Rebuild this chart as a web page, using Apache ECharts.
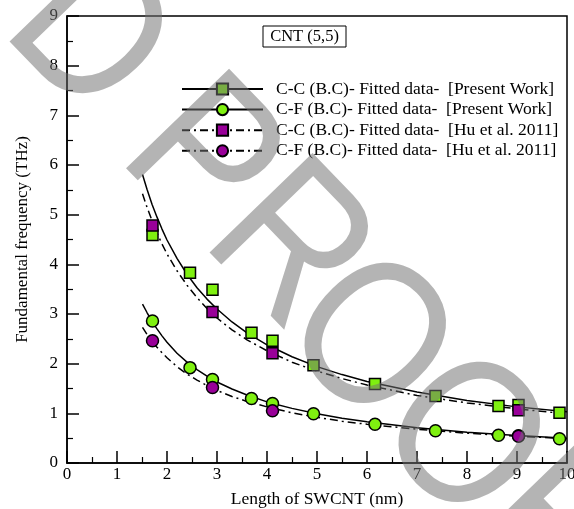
<!DOCTYPE html>
<html>
<head>
<meta charset="utf-8">
<script src="https://cdn.jsdelivr.net/npm/echarts@6/dist/echarts.min.js"></script>
<style>
  html, body { margin: 0; padding: 0; background: #fff; }
  #chart { width: 574px; height: 509px; }
</style>
</head>
<body>
<div id="chart"></div>
<script>
// ---- Data ----
const xTicks = [0, 1, 2, 3, 4, 5, 6, 7, 8, 9, 10];
const yTicks = [0, 1, 2, 3, 4, 5, 6, 7, 8, 9];

const legendNames = [
  'C-C (B.C)- Fitted data-  [Present Work]',
  'C-F (B.C)- Fitted data-  [Present Work]',
  'C-C (B.C)- Fitted data-  [Hu et al. 2011]',
  'C-F (B.C)- Fitted data-  [Hu et al. 2011]'
];

// Data points (symbols)
const presentX = [1.71, 2.46, 2.91, 3.69, 4.11, 4.93, 6.16, 7.37, 8.63, 9.03, 9.85];
const ccPresentY = [4.59, 3.83, 3.49, 2.62, 2.46, 1.97, 1.59, 1.35, 1.15, 1.17, 1.01];
const cfPresentY = [2.86, 1.92, 1.68, 1.30, 1.20, 0.99, 0.78, 0.65, 0.56, 0.55, 0.49];
const huX = [1.71, 2.91, 4.11, 9.03];
const ccHuY = [4.78, 3.04, 2.21, 1.06];
const cfHuY = [2.46, 1.52, 1.05, 0.54];

// Fitted curves
const fitX = [1.51, 1.6, 1.7, 1.8, 1.9, 2.0, 2.2, 2.4, 2.6, 2.8, 3.0, 3.3, 3.6, 4.0, 4.5, 5, 5.5, 6, 7, 8, 9, 10];
const ccPresentFit = [5.81, 5.51, 5.21, 4.95, 4.71, 4.49, 4.12, 3.80, 3.53, 3.30, 3.10, 2.84, 2.62, 2.38, 2.14, 1.94, 1.78, 1.64, 1.43, 1.26, 1.13, 1.03];
const ccHuFit = [5.42, 5.15, 4.88, 4.63, 4.41, 4.21, 3.87, 3.58, 3.33, 3.11, 2.92, 2.68, 2.48, 2.26, 2.03, 1.85, 1.70, 1.57, 1.36, 1.21, 1.09, 0.99];
const cfPresentFit = [3.20, 3.03, 2.85, 2.70, 2.56, 2.43, 2.21, 2.03, 1.88, 1.75, 1.63, 1.49, 1.37, 1.23, 1.10, 0.99, 0.90, 0.83, 0.71, 0.62, 0.555, 0.50];
const cfHuFit = [2.73, 2.59, 2.45, 2.33, 2.22, 2.12, 1.94, 1.79, 1.67, 1.56, 1.46, 1.34, 1.24, 1.13, 1.01, 0.92, 0.84, 0.78, 0.68, 0.60, 0.54, 0.49];

const titleText = 'CNT (5,5)';
const xName = 'Length of SWCNT (nm)';
const yName = 'Fundamental frequency (THz)';
// Watermark letters ("...D PROOF") with the anchor of each letter
const wmLetters = ['D', 'P', 'R', 'O', 'O', 'F'];
const wmAnchors = [[86, 38], [199, 161], [286, 249], [365, 343], [459, 442], [548, 527]];

// ---- Styles ----
const SERIF = '"Liberation Serif", "Times New Roman", serif';
const GREEN = '#7ff010';
const PURPLE = '#990099';
const DASHDOT = [8, 4, 2, 4];
const WM_ROT = -46 * Math.PI / 180;

function pairs(xs, ys) { return xs.map((x, i) => [x, ys[i]]); }

function curve(name, ys, symbol, color, dashed) {
  return {
    name: name,
    type: 'line',
    data: pairs(fitX, ys),
    smooth: false,
    showSymbol: false,
    symbol: symbol,
    itemStyle: { color: color, borderColor: '#000', borderWidth: 1.5 },
    lineStyle: { color: '#000', width: 1.5, type: dashed ? DASHDOT : 'solid' },
    emphasis: { disabled: true },
    silent: true,
    z: 2
  };
}

function points(name, xs, ys, symbol, size, color, z) {
  return {
    name: name,
    type: 'scatter',
    data: pairs(xs, ys),
    symbol: symbol,
    symbolSize: size,
    itemStyle: { color: color, borderColor: '#000', borderWidth: 1.5, opacity: 1 },
    emphasis: { disabled: true },
    silent: true,
    z: z
  };
}

const watermark = wmLetters.map((ch, i) => ({
  type: 'text',
  x: wmAnchors[i][0], y: wmAnchors[i][1],
  rotation: WM_ROT, scaleX: 0.87, scaleY: 1,
  silent: true,
  style: {
    text: ch, font: '208px "Liberation Sans", Arial, sans-serif',
    fill: 'rgba(113,113,113,0.53)', align: 'center', verticalAlign: 'middle'
  },
  z: 100
}));

const chart = echarts.init(document.getElementById('chart'), null, { renderer: 'canvas' });

const option = {
  backgroundColor: '#fff',
  animation: false,
  grid: {
    left: 67, right: 7, top: 16, bottom: 46,
    containLabel: false, outerBoundsMode: 'none',
    show: true, borderColor: '#000', borderWidth: 1.5, backgroundColor: 'transparent'
  },
  xAxis: {
    type: 'value', min: 0, max: 10, interval: 1,
    name: xName, nameLocation: 'middle', nameGap: 27,
    nameTextStyle: { fontFamily: SERIF, fontSize: 17.5, color: '#000' },
    axisLine: { show: true, lineStyle: { color: '#000', width: 1.5 } },
    axisTick: { show: true, inside: true, length: 12, lineStyle: { color: '#000', width: 1.5 } },
    minorTick: { show: true, splitNumber: 2, length: 6, lineStyle: { color: '#000', width: 1.2 } },
    axisLabel: { fontFamily: SERIF, fontSize: 17, color: '#000', margin: 3, hideOverlap: false,
      formatter: v => (xTicks.indexOf(v) >= 0 ? String(v) : '') },
    splitLine: { show: false }
  },
  yAxis: {
    type: 'value', min: 0, max: 9, interval: 1,
    name: yName, nameLocation: 'middle', nameGap: 36,
    nameTextStyle: { fontFamily: SERIF, fontSize: 17, color: '#000' },
    axisLine: { show: true, lineStyle: { color: '#000', width: 1.5 } },
    axisTick: { show: true, inside: true, length: 12, lineStyle: { color: '#000', width: 1.5 } },
    minorTick: { show: true, splitNumber: 2, length: 6, lineStyle: { color: '#000', width: 1.2 } },
    axisLabel: { fontFamily: SERIF, fontSize: 17, color: '#000', margin: 9,
      formatter: v => (yTicks.indexOf(v) >= 0 ? String(v) : '') },
    splitLine: { show: false }
  },
  legend: {
    data: legendNames,
    orient: 'vertical',
    left: 181, top: 80, padding: 0,
    itemWidth: 81, itemHeight: 14, itemGap: 2.6,
    selectedMode: false,
    textStyle: { fontFamily: SERIF, fontSize: 17.5, color: '#000', lineHeight: 14, padding: [0, 0, 0, 8] }
  },
  graphic: [
    { type: 'rect', shape: { x: 263, y: 26, width: 83, height: 21 },
      style: { fill: '#fff', stroke: '#000', lineWidth: 1 }, z: 10 },
    { type: 'text', x: 304.5, y: 37,
      style: { text: titleText, font: '16.5px ' + SERIF, fill: '#000', align: 'center', verticalAlign: 'middle' }, z: 11 }
  ].concat(watermark),
  series: [
    curve(legendNames[0], ccPresentFit, 'rect', GREEN, false),
    curve(legendNames[1], cfPresentFit, 'circle', GREEN, false),
    curve(legendNames[2], ccHuFit, 'rect', PURPLE, true),
    curve(legendNames[3], cfHuFit, 'circle', PURPLE, true),
    points('pts-cc-present', presentX, ccPresentY, 'rect', 11, GREEN, 3),
    points('pts-cf-present', presentX, cfPresentY, 'circle', 12, GREEN, 3),
    points('pts-cc-hu', huX, ccHuY, 'rect', 11, PURPLE, 4),
    points('pts-cf-hu', huX, cfHuY, 'circle', 12, PURPLE, 4)
  ]
};

chart.setOption(option);
</script>
</body>
</html>
